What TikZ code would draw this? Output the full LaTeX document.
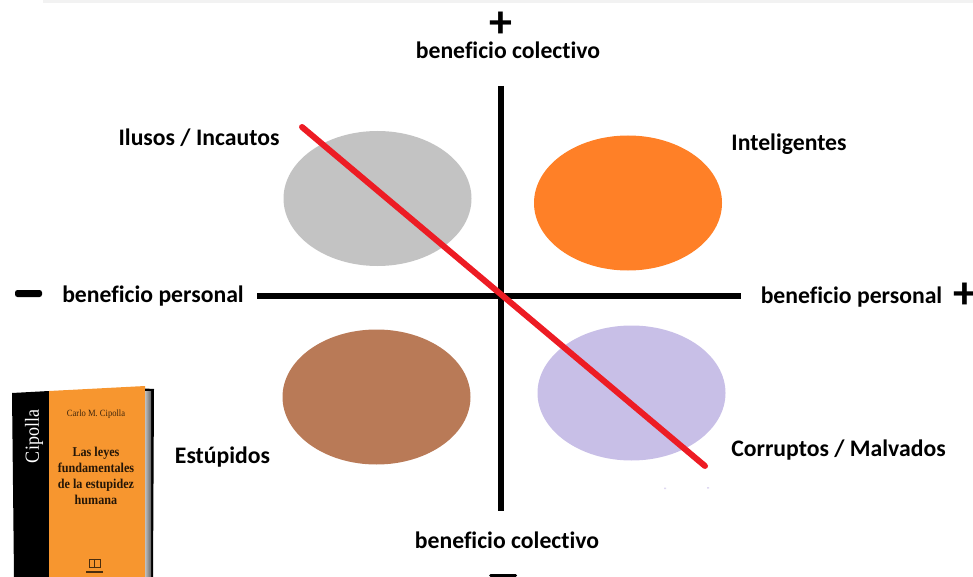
\documentclass[tikz,border=0pt]{standalone}
\usepackage{fontspec}
\setmainfont[Ligatures=NoCommon]{Carlito}
\newfontfamily\bookfont[FakeStretch=0.9]{Liberation Serif}
\definecolor{ego}{HTML}{C3C3C3}
\definecolor{eor}{HTML}{FF8027}
\definecolor{ebr}{HTML}{B97A57}
\definecolor{eli}{HTML}{C8BFE7}
\definecolor{redl}{HTML}{ED1C24}
\definecolor{bookor}{HTML}{F7962F}
\usetikzlibrary{shapes.geometric}
\tikzset{
  x=1pt,y=-1pt,
  blob/.style={ellipse,minimum width=188pt,minimum height=135pt,inner sep=0pt,fill=#1},
  lab/.style={font=\fontsize{23.7}{26}\selectfont\bfseries,inner sep=0pt,text=black,anchor=base},
  sign/.style={font=\fontsize{46}{46}\selectfont\bfseries,inner sep=0pt,text=black},
  axis/.style={line width=5.5pt,black},
  booktitle/.style={font=\bookfont\fontsize{13.5}{16}\selectfont\bfseries,align=center,inner sep=0pt,text=black!85!bookor}
}
\begin{document}
\begin{tikzpicture}
\useasboundingbox (0,0) rectangle (973,577);
\fill[black!5] (43,0) rectangle (973,3);
% ellipses
\node[blob=ego] (ilusos) at (377.5,198.5) {};
\node[blob=eor] (intel) at (628,203) {};
\node[blob=ebr] (estu) at (376.5,397) {};
\node[blob=eli] (corr) at (631.5,393) {};
\fill[eli!60] (664,487.5) rectangle (666,489) (707,487) rectangle (709,488.5);
% axes
\coordinate (top) at (501,86);
\coordinate (bottom) at (501,511);
\coordinate (left) at (257,296);
\coordinate (right) at (741,296);
\draw[axis] (top) -- (bottom);
\draw[axis] (left) -- (right);
% red line
\coordinate (rs) at (302,127);
\coordinate (re) at (705,466);
\draw[line width=6pt,line cap=round,redl] (rs) -- (re);
% labels
\node[sign] (ptop) at (501,25) {+};
\node[lab] (bct) at (508,59) {beneficio colectivo};
\node[lab] (bcb) at (507,548) {beneficio colectivo};
\node[lab] (bpl) at (153,302) {beneficio personal};
\node[lab] (bpr) at (851.5,303) {beneficio personal};
\node[sign] (pright) at (965,296) {+};
\node[lab] (lil) at (199,146) {Ilusos / Incautos};
\node[lab] (lin) at (789,151) {Inteligentes};
\node[lab] (les) at (222.5,463) {Estúpidos};
\node[lab] (lco) at (838.5,456) {Corruptos / Malvados};
% minus signs
\fill[rounded corners=2.5pt] (15,290) rectangle (42,297);
\fill[rounded corners=1.5pt] (489,574) rectangle (517,577);
% book
\fill[black] (12,393) -- (49,391) -- (49,577) -- (14,577) -- cycle;
\fill[bookor] (49,391) -- (145,386) -- (145,577) -- (49,577) -- cycle;
\fill[black] (145,388.5) -- (154,389) -- (153,577) -- (145,577) -- cycle;
\shade[left color=black!25,right color=black!60] (145,391) rectangle (151,577);
\node[font=\bookfont\fontsize{20}{20}\selectfont,text=white,rotate=90,inner sep=0pt] (bsp) at (34,436.5) {Cipolla};
\node[font=\bookfont\fontsize{9.5}{11}\selectfont,text=black!75!bookor,inner sep=0pt] (bau) at (96,414.5) {Carlo M. Cipolla};
\node[booktitle] (bti) at (96,476) {Las leyes\\fundamentales\\de la estupidez\\humana};
\draw[black!70!bookor,line width=.7pt] (89,559) rectangle (100,567) (94.5,559) -- (94.5,567);
\fill[black!70!bookor] (86,571) rectangle (103,573);
\end{tikzpicture}
\end{document}
